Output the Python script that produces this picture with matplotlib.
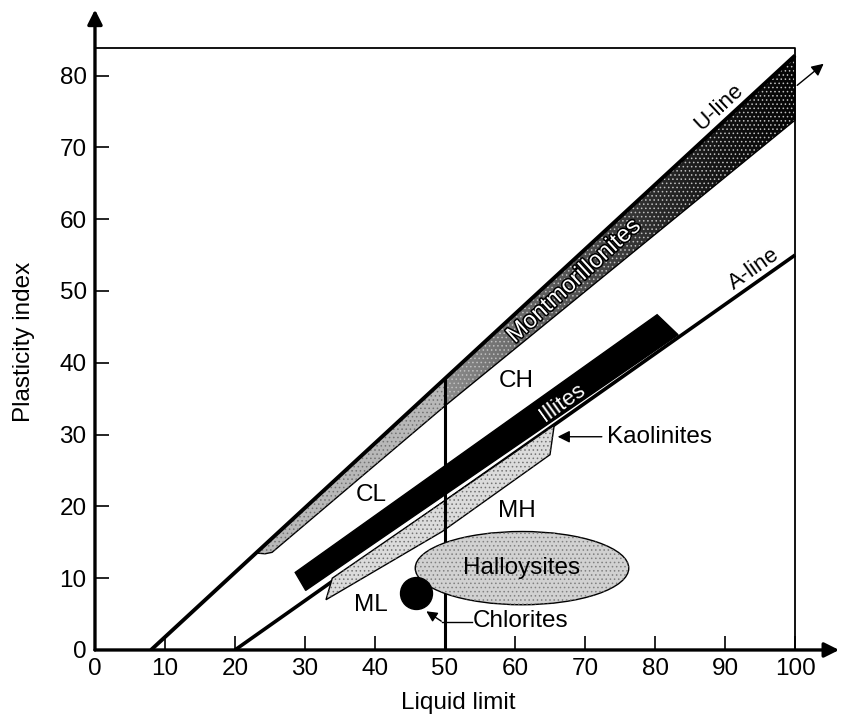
import numpy as np
import matplotlib.pyplot as plt
from matplotlib.patches import Polygon, Ellipse
import matplotlib.patheffects as pe

plt.rcParams['font.family'] = ['Liberation Sans', 'DejaVu Sans']
plt.rcParams['hatch.linewidth'] = 0.6

# chart lines (liquid limit, plasticity index)
u_line_x = [8, 100]
u_line_y = [0, 82.8]
a_line_x = [20, 100]
a_line_y = [0, 55]
ll50_x = [50, 50]
ll50_y = [0, 37.8]

# clay mineral zones
mont_left_x = [23.0, 50, 50, 25.3, 24.3]
mont_left_y = [13.5, 37.8, 34.0, 13.6, 13.4]
mont_right_x = [50, 100, 100, 50]
mont_right_y = [37.8, 82.8, 73.8, 34.0]
mont_shade_x = [50, 60, 70, 80, 90, 100]
mont_shade = [0.55, 0.42, 0.30, 0.17, 0.07, 0.02]
illite_x = [28.6, 80.3, 83.3, 30.1]
illite_y = [10.8, 46.7, 43.9, 8.3]
kaol_x = [33.9, 65.6, 65.0, 49.6, 33.0]
kaol_y = [10.0, 31.3, 27.2, 16.5, 7.0]
halloy_center = (61.0, 11.4)
halloy_w, halloy_h = 30.5, 10.2
chlorite_x, chlorite_y = 45.8, 8.0

# zone labels
zone_names = ['CL', 'CH', 'MH', 'ML']
zone_x = [39.4, 60.2, 60.2, 39.4]
zone_y = [21.6, 37.5, 19.3, 6.2]

fs = 17.5

fig = plt.figure(figsize=(8.45, 7.19), dpi=100)
ax = fig.add_axes([0.1124, 0.096, 0.8823, 0.8937])

# montmorillonite band, light part left of LL=50
ax.add_patch(Polygon(list(zip(mont_left_x, mont_left_y)), closed=True,
                     facecolor='0.72', edgecolor='k', lw=1, zorder=1))
ax.add_patch(Polygon(list(zip(mont_left_x, mont_left_y)), closed=True,
                     facecolor='none', edgecolor='0.45', lw=0, hatch='....', zorder=1.1))

# montmorillonite band, darkening to the right
gx = np.linspace(50, 100, 300)
grad = np.tile(np.interp(gx, mont_shade_x, mont_shade), (2, 1))
im = ax.imshow(grad, cmap='gray', vmin=0, vmax=1, extent=[50, 100, 30, 85],
               origin='lower', aspect='auto', zorder=1)
clip = Polygon(list(zip(mont_right_x, mont_right_y)), closed=True,
               facecolor='none', edgecolor='k', lw=1, zorder=1.2)
ax.add_patch(clip)
im.set_clip_path(clip)
ax.add_patch(Polygon(list(zip(mont_right_x, mont_right_y)), closed=True,
                     facecolor='none', edgecolor='0.75', lw=0, hatch='....', zorder=1.1))

# A-line sits under the mineral zones
ax.plot(a_line_x, a_line_y, color='k', lw=2.6, solid_capstyle='butt', zorder=0.9)

# kaolinites
ax.add_patch(Polygon(list(zip(kaol_x, kaol_y)), closed=True,
                     facecolor='0.86', edgecolor='k', lw=1, zorder=1))
ax.add_patch(Polygon(list(zip(kaol_x, kaol_y)), closed=True,
                     facecolor='none', edgecolor='0.45', lw=0, hatch='....', zorder=1.1))

# illites
ax.add_patch(Polygon(list(zip(illite_x, illite_y)), closed=True,
                     facecolor='k', edgecolor='k', lw=1, zorder=2))

# main lines
ax.plot(u_line_x, u_line_y, color='k', lw=2.8, solid_capstyle='butt', zorder=3)
ax.plot(ll50_x, ll50_y, color='k', lw=2.2, zorder=3)

# halloysites
ax.add_patch(Ellipse(halloy_center, halloy_w, halloy_h, facecolor='0.82',
                     edgecolor='k', lw=1, zorder=4))
ax.add_patch(Ellipse(halloy_center, halloy_w, halloy_h, facecolor='none',
                     edgecolor='0.5', lw=0, hatch='....', zorder=4.1))
ax.text(halloy_center[0], halloy_center[1], 'Halloysites', fontsize=fs,
        ha='center', va='center', zorder=5)

# chlorites
ax.plot([chlorite_x], [chlorite_y], 'o', color='k', ms=23, zorder=5)
ax.plot([53.8, 49.6], [3.9, 3.9], color='k', lw=1, zorder=3)
ax.annotate('', xy=(47.0, 5.6), xytext=(49.8, 3.8),
            arrowprops=dict(arrowstyle='-|>', color='k', lw=1, mutation_scale=16), zorder=5)
ax.text(54.0, 4.0, 'Chlorites', fontsize=fs, ha='left', va='center', zorder=5)

# kaolinites pointer
ax.annotate('', xy=(65.7, 29.7), xytext=(72.8, 29.7),
            arrowprops=dict(arrowstyle='-|>', color='k', lw=1, mutation_scale=18), zorder=5)
ax.text(73.2, 29.7, 'Kaolinites', fontsize=fs, ha='left', va='center', zorder=5)

# band labels
ax.text(68.5, 51.4, 'Montmorillonites', fontsize=17, color='white', rotation=42.5,
        ha='center', va='center', rotation_mode='anchor', zorder=5,
        path_effects=[pe.withStroke(linewidth=2.2, foreground='k')])
ax.text(66.8, 34.4, 'Illites', fontsize=16, color='white', rotation=35.5,
        ha='center', va='center', rotation_mode='anchor', zorder=5)
ax.text(89.1, 75.6, 'U-line', fontsize=16, rotation=42.7,
        ha='center', va='center', rotation_mode='anchor', zorder=5)
ax.text(94.1, 53.0, 'A-line', fontsize=16, rotation=35.2,
        ha='center', va='center', rotation_mode='anchor', zorder=5)
for name, zx, zy in zip(zone_names, zone_x, zone_y):
    ax.text(zx, zy, name, fontsize=fs, ha='center', va='center', zorder=5)

# extension arrow beyond the chart
ax.annotate('', xy=(104.4, 81.9), xytext=(100, 78.4), annotation_clip=False,
            arrowprops=dict(arrowstyle='-|>', color='k', lw=1, mutation_scale=18))

# frame and axes
ax.plot([0, 100, 100], [83.8, 83.8, 0], color='k', lw=1.3, zorder=3, clip_on=False)
ax.annotate('', xy=(106.3, 0), xytext=(0, 0), annotation_clip=False,
            arrowprops=dict(arrowstyle='-|>', color='k', lw=2.4, mutation_scale=22,
                            shrinkA=0, shrinkB=0))
ax.annotate('', xy=(0, 89.2), xytext=(0, 0), annotation_clip=False,
            arrowprops=dict(arrowstyle='-|>', color='k', lw=2.4, mutation_scale=22,
                            shrinkA=0, shrinkB=0))

ax.set_xlim(0, 106.5)
ax.set_ylim(0, 89.5)
for s in ax.spines.values():
    s.set_visible(False)
ax.set_xticks(range(0, 101, 10))
ax.set_yticks(range(0, 81, 10))
ax.tick_params(direction='in', length=10, width=1.2, labelsize=fs, pad=6)

fig.text(24 / 845, 1 - 342 / 719, 'Plasticity index', rotation=90, fontsize=fs,
         ha='center', va='center')
fig.text(458 / 845, 1 - 703 / 719, 'Liquid limit', fontsize=fs, ha='center', va='center')

fig.savefig('out.png', dpi=100)
